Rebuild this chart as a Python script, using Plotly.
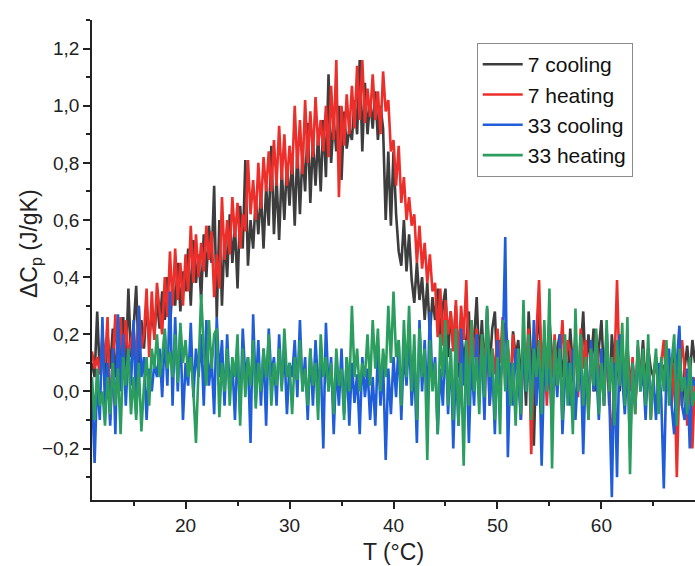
import numpy as np
import plotly.graph_objects as go

# Temperature grid (°C), 0.25 °C sampling
T = np.round(np.arange(11.0, 69.0001, 0.25), 2).tolist()

cool7 = [
    0.10, 0.05, 0.28, 0.06,  0.15, 0.02, 0.20, 0.08,  0.22, 0.05, 0.18, 0.10,
    0.26, 0.08, 0.36, 0.12,  0.22, 0.37, 0.10, 0.25,  0.15, 0.30, 0.18, 0.28,
    0.20, 0.32, 0.22, 0.35,  0.25, 0.40, 0.22, 0.38,  0.30, 0.45, 0.28, 0.42,
    0.35, 0.50, 0.30, 0.53,  0.38, 0.48, 0.32, 0.55,  0.40, 0.58, 0.45, 0.72,
    0.26, 0.60, 0.30, 0.55,  0.40, 0.62, 0.45, 0.58,  0.36, 0.65, 0.50, 0.81,
    0.44, 0.60, 0.50, 0.68,  0.55, 0.70, 0.50, 0.72,  0.58, 0.86, 0.55, 0.75,
    0.53, 0.78, 0.60, 0.80,  0.65, 0.82, 0.58, 0.85,  0.62, 0.84, 0.70, 0.94,
    0.66, 0.88, 0.72, 0.90,  0.70, 0.95, 0.75, 1.11,  0.80, 0.95, 0.84, 1.00,
    0.74, 0.98, 0.85, 0.92,  0.88, 1.02, 0.90, 1.16,  0.84, 1.08, 0.90, 1.02,
    0.92, 1.05, 0.88, 1.00,  0.92, 0.60, 0.84, 0.58,  0.84, 0.62, 0.49, 0.44,
    0.60, 0.42, 0.55, 0.39,  0.31, 0.45, 0.32, 0.40,  0.25, 0.38, 0.20, 0.33,
    0.25, 0.36, 0.18, 0.30,  0.36, 0.12, 0.28, 0.15,  0.30, 0.05, 0.22, 0.10,
    0.18, 0.28, 0.02, 0.20,  0.33, 0.10, 0.25, 0.05,  0.29, 0.08, 0.22, 0.28,
    0.06, 0.18, 0.10, 0.24,  0.15, 0.00, 0.21, 0.12,  0.18, 0.05, 0.14, -0.05,
    0.28, 0.10, -0.19, 0.15, 0.30, 0.05, 0.18, 0.08,  0.25, 0.12, 0.02, 0.15,
    0.20, 0.05, 0.14, 0.02,  0.22, 0.08, 0.18, 0.00,  0.15, 0.28, 0.05, 0.20,
    0.10, 0.22, 0.00, 0.15,  0.25, 0.05, 0.18, -0.05, 0.20, 0.08, 0.12, 0.00,
    0.15, 0.05, 0.16, 0.02,  0.10, -0.05, 0.12, 0.05, 0.18, 0.02, 0.15, 0.08,
    0.05, 0.12, -0.02, 0.10, 0.08, 0.00, 0.12, 0.05,  0.15, 0.02, 0.10, -0.05,
    0.08, 0.16, 0.05, 0.18,  0.10,
]

heat7 = [
    0.14, 0.08, 0.12, 0.06,  0.20, 0.10, 0.26, -0.10, 0.10, 0.27, 0.05, 0.26,
    0.08, 0.25, 0.12, 0.18,  0.22, 0.10, 0.30, 0.15,  0.20, 0.36, 0.12, 0.35,
    0.18, 0.38, 0.28, 0.20,  0.40, 0.26, 0.49, 0.30,  0.50, 0.32, 0.45, 0.30,
    0.48, 0.35, 0.58, 0.38,  0.55, 0.40, 0.52, 0.42,  0.58, 0.46, 0.56, 0.33,
    0.48, 0.36, 0.68, 0.46,  0.60, 0.48, 0.68, 0.54,  0.66, 0.50, 0.62, 0.56,
    0.81, 0.62, 0.74, 0.60,  0.80, 0.64, 0.82, 0.70,  0.84, 0.70, 0.88, 0.72,
    0.93, 0.74, 0.90, 0.72,  0.86, 0.76, 1.00, 0.78,  0.95, 0.76, 1.02, 0.80,
    0.98, 0.82, 1.03, 0.86,  0.95, 0.84, 1.00, 0.82,  1.07, 0.88, 1.16, 0.68,
    1.00, 0.86, 1.04, 0.90,  1.07, 0.92, 1.14, 0.95,  1.16, 0.94, 1.06, 0.96,
    1.11, 0.95, 1.05, 0.90,  1.12, 0.98, 1.02, 0.84,  0.88, 0.72, 0.86, 0.66,
    0.75, 0.60, 0.68, 0.58,  0.62, 0.45, 0.58, 0.43,  0.52, 0.38, 0.48, 0.35,
    0.38, 0.19, 0.36, 0.16,  0.32, 0.20, 0.28, 0.14,  0.32, 0.10, 0.30, 0.18,
    0.39, 0.08, 0.25, 0.12,  0.22, 0.02, 0.18, 0.10,  0.20, -0.05, 0.15, 0.06,
    0.22, 0.10, 0.26, 0.02,  0.15, -0.02, 0.20, 0.08, 0.12, -0.10, 0.18, 0.05,
    0.22, -0.22, 0.10, 0.20, 0.39, 0.08, 0.18, -0.05, 0.15, 0.05, 0.20, 0.00,
    0.12, 0.25, 0.05, 0.18,  0.14, 0.05, 0.20, -0.02, 0.22, 0.08, 0.18, -0.10,
    0.15, 0.00, 0.20, 0.05,  0.10, -0.05, 0.15, 0.02, -0.24, 0.12, 0.39, 0.05,
    0.18, -0.02, 0.14, 0.00, 0.12, -0.08, 0.16, 0.05, 0.10, -0.04, 0.15, -0.10,
    0.05, 0.12, 0.00, 0.10,  0.18, 0.02, 0.12, -0.05, 0.10, -0.30, 0.05, 0.18,
    0.08, -0.12, 0.10, -0.20, 0.05,
]

cool33 = [
    0.00, -0.25, 0.05, -0.10, 0.26, -0.05, 0.10, -0.12, 0.15, -0.15, 0.27, 0.00,
    0.20, -0.05, 0.15, 0.02,  0.25, -0.08, 0.30, 0.05,  0.12, -0.10, 0.08, 0.00,
    0.10, 0.05, 0.15, -0.02,  0.20, 0.02, 0.35, -0.05,  0.26, 0.00, 0.22, -0.10,
    0.10, 0.02, 0.24, -0.02,  0.15, 0.05, 0.20, -0.05,  0.25, 0.02, 0.12, -0.08,
    0.26, 0.05, 0.18, -0.05,  0.20, 0.00, 0.10, -0.10,  0.15, -0.08, 0.22, 0.05,
    0.12, -0.18, 0.27, 0.00,  0.18, -0.05, 0.15, -0.12, 0.22, 0.05, 0.12, -0.05,
    0.20, 0.02, 0.15, -0.08,  0.10, 0.05, 0.18, -0.02,  0.25, 0.00, 0.12, -0.10,
    0.15, -0.05, 0.18, 0.02,  0.10, -0.20, 0.24, 0.00,  0.12, -0.15, 0.10, -0.05,
    0.15, -0.08, 0.12, -0.12, 0.10, -0.04, 0.06, -0.15, 0.12, -0.02, 0.08, -0.10,
    0.05, -0.12, 0.15, -0.05, 0.10, -0.24, 0.08, -0.08, 0.12, -0.02, 0.18, -0.10,
    0.15, 0.02, 0.20, -0.05,  0.10, -0.18, 0.25, 0.00,  0.18, -0.05, 0.28, 0.02,
    0.12, -0.15, 0.08, -0.05, 0.20, -0.08, 0.15, -0.20, 0.10, -0.12, 0.22, 0.02,
    0.15, -0.18, 0.12, -0.05, 0.20, 0.00, 0.15, -0.10,  0.25, -0.05, 0.10, -0.15,
    0.18, 0.02, 0.12, 0.54,  -0.23, 0.10, -0.05, 0.15, 0.05, -0.10, 0.18, 0.00,
    0.12, -0.08, 0.25, -0.05, 0.15, -0.26, 0.10, 0.02, 0.08, -0.12, 0.15, -0.02,
    0.20, -0.15, 0.05, 0.10, -0.05, 0.15, -0.10, 0.08, 0.12, -0.22, 0.10, -0.05,
    0.18, 0.00, 0.08, -0.10,  0.15, -0.05, 0.22, 0.00, -0.37, 0.10, -0.30, 0.20,
    0.05, -0.08, 0.12, -0.20, 0.10, -0.05, 0.15, 0.00, 0.08, -0.10, 0.12, -0.05,
    0.05, -0.10, 0.10, -0.02, -0.34, 0.08, 0.15, -0.05, -0.15, 0.10, 0.23, -0.05,
    -0.10, 0.08, -0.20, 0.05, 0.02,
]

heat33 = [
    0.05, -0.10, 0.08, -0.05, 0.00, -0.12, 0.05, -0.08, 0.10, -0.05, 0.08, -0.15,
    0.12, 0.02, 0.15, -0.08,  0.05, -0.10, 0.10, -0.14, 0.02, 0.12, -0.05, 0.15,
    0.08, 0.20, 0.05, 0.12,  0.22, 0.08, 0.14, 0.05,  0.20, 0.03, 0.24, 0.10,
    0.18, 0.05, 0.12, 0.00,  -0.18, 0.05, 0.34, 0.15, 0.02, 0.25, 0.08, 0.20,
    0.22, -0.09, 0.10, 0.00, 0.15, -0.05, 0.12, 0.05, 0.20, -0.12, 0.15, -0.02,
    0.12, 0.02, 0.18, -0.06, 0.10, 0.00, 0.15, 0.05,  0.20, -0.05, 0.10, 0.02,
    0.15, 0.00, 0.22, 0.05,  0.10, -0.08, 0.12, 0.04, 0.18, 0.00, 0.08, -0.05,
    0.15, 0.02, 0.10, -0.10, 0.20, 0.05, 0.12, 0.00,  0.10, -0.08, 0.15, 0.02,
    0.08, -0.10, 0.12, 0.00, 0.30, 0.05, 0.15, 0.00,  0.10, 0.05, 0.20, 0.02,
    0.25, 0.08, 0.22, 0.00,  0.15, 0.05, 0.30, 0.10,  0.35, 0.12, 0.18, -0.05,
    0.25, 0.05, 0.30, 0.00,  0.20, -0.10, 0.22, 0.05, 0.15, -0.24, 0.18, 0.00,
    0.10, -0.15, 0.20, 0.05, 0.25, -0.05, 0.15, -0.10, 0.22, -0.12, 0.10, -0.26,
    0.18, -0.05, 0.25, 0.00, 0.12, -0.08, 0.20, -0.02, 0.30, 0.05, 0.15, -0.10,
    0.12, -0.15, 0.25, 0.00, 0.18, -0.05, 0.10, -0.12, 0.15, -0.08, 0.32, 0.00,
    0.20, -0.10, 0.15, 0.05, 0.18, -0.08, 0.25, 0.00, 0.36, -0.27, 0.18, 0.02,
    0.15, -0.10, 0.20, -0.05, 0.10, -0.15, 0.29, 0.00, 0.20, -0.05, 0.12, -0.10,
    0.15, 0.02, 0.22, -0.08, 0.10, -0.05, 0.25, 0.00, 0.12, -0.12, 0.18, 0.02,
    0.24, -0.05, 0.26, -0.29, 0.10, -0.08, 0.18, 0.00, 0.15, -0.05, 0.20, -0.10,
    0.05, 0.15, -0.08, 0.12, 0.00, 0.18, -0.05, 0.10, 0.20, -0.12, 0.15, 0.00,
    0.05, -0.08, 0.12, -0.05, 0.00,
]

series_names = ["7 cooling", "7 heating", "33 cooling", "33 heating"]
series_values = [cool7, heat7, cool33, heat33]
colors = ["#3d3d3d", "#ec2f2b", "#1f5ed8", "#2a9d5f"]

fig = go.Figure()
for name, vals, col in zip(series_names, series_values, colors):
    fig.add_trace(go.Scatter(x=T[:len(vals)], y=vals, mode="lines", name=name,
                             line=dict(color=col, width=2.6)))

font_family = "Liberation Sans, Arial, sans-serif"
fig.update_layout(
    width=695, height=566,
    margin=dict(l=92, r=0, t=20, b=66, autoexpand=False),
    paper_bgcolor="white", plot_bgcolor="white",
    separators=",.",
    font=dict(family=font_family, size=18, color="#222"),
    showlegend=True,
    legend=dict(x=0.638, y=0.952, xanchor="left", yanchor="top",
                bordercolor="#8a8a8a", borderwidth=1, bgcolor="white",
                font=dict(size=21, color="#111"), tracegroupgap=0,
                itemwidth=40),
    annotations=[dict(text="ΔC<sub>p</sub> (J/gK)", xref="paper", yref="paper",
                      x=-0.103, y=0.535, xanchor="center", yanchor="middle",
                      textangle=-90, showarrow=False,
                      font=dict(size=23, color="#222", family=font_family))],
)
fig.update_xaxes(
    range=[11, 69], dtick=10, tick0=0, showgrid=False, zeroline=False,
    automargin=False,
    showline=True, linecolor="#222", linewidth=1.5,
    ticks="outside", ticklen=7, tickwidth=1.5, tickcolor="#222",
    minor=dict(dtick=5, tick0=0, ticks="outside", ticklen=4, tickcolor="#222", tickwidth=1.5),
    tickfont=dict(size=19),
    title=dict(text="T (°C)", font=dict(size=23), standoff=9),
)
fig.update_yaxes(
    range=[-0.38, 1.3], dtick=0.2, tick0=0, tickformat=".1f",
    showgrid=False, zeroline=False, automargin=False,
    showline=True, linecolor="#222", linewidth=1.5,
    ticks="outside", ticklen=7, tickwidth=1.5, tickcolor="#222",
    minor=dict(dtick=0.1, tick0=0, ticks="outside", ticklen=4, tickcolor="#222", tickwidth=1.5),
    tickfont=dict(size=19),
)

fig.write_html("out.html", config={"displayModeBar": False},
               post_script="document.body.style.margin='0';document.body.style.overflow='hidden';")
